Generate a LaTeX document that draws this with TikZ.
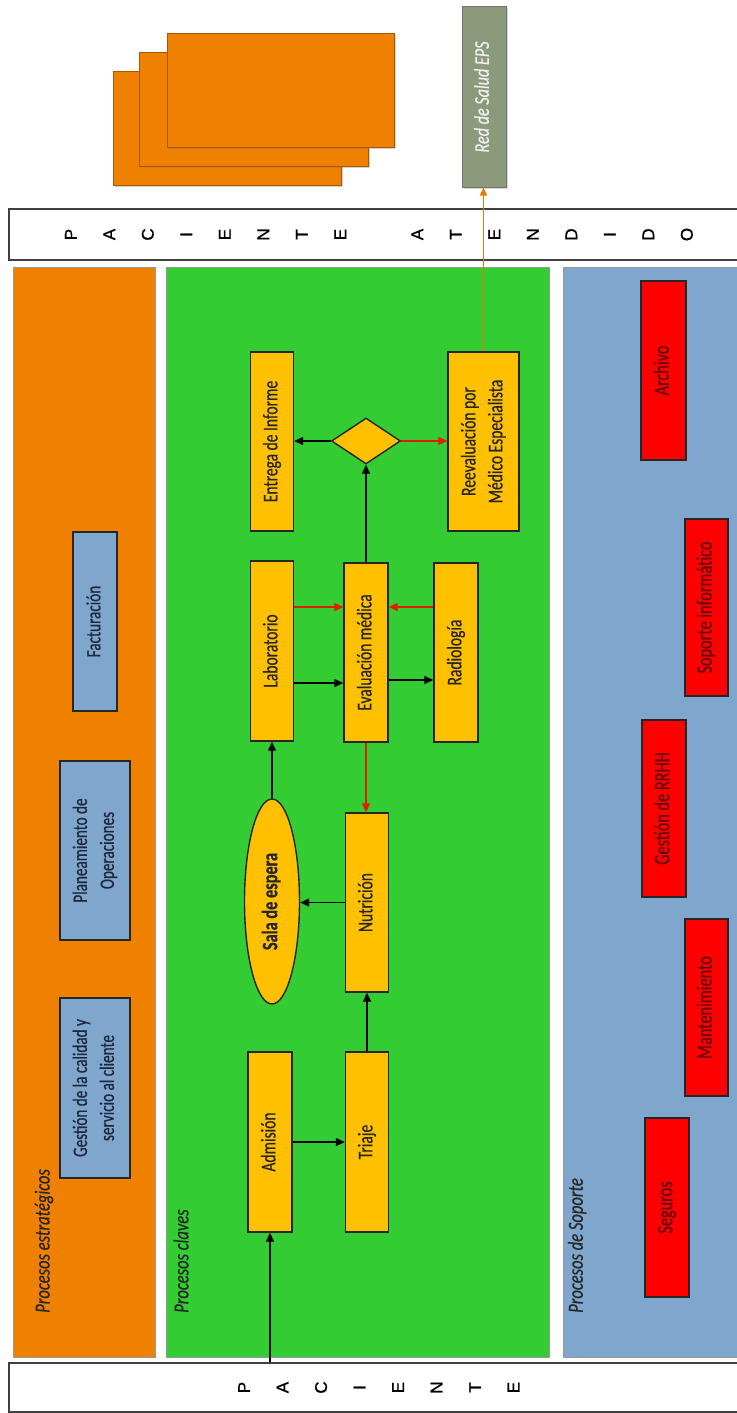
\documentclass[tikz,border=0pt]{standalone}
\usepackage{fontspec}
\setmainfont{Carlito}
\newfontfamily\boxfont[FakeStretch=0.74,FakeBold=0.6]{Carlito}
\newfontfamily\titlefont[FakeStretch=0.77,FakeBold=0.5]{Carlito}
\newfontfamily\letterfont[FakeBold=0.8]{Liberation Sans}
\usetikzlibrary{arrows.meta,shapes.geometric,shadows}

\definecolor{stratfill}{RGB}{240,128,0}
\definecolor{keyfill}{RGB}{51,204,51}
\definecolor{supfill}{RGB}{127,166,204}
\definecolor{stepfill}{RGB}{255,192,0}
\definecolor{suppbox}{RGB}{255,0,0}
\definecolor{suptext}{RGB}{100,0,0}
\definecolor{strattext}{RGB}{30,40,60}
\definecolor{epsfill}{RGB}{140,154,124}
\definecolor{redflow}{RGB}{225,30,0}
\definecolor{stackedge}{RGB}{170,85,0}
\definecolor{exitline}{RGB}{235,120,0}

% vertical (bottom-to-top) label, possibly on several lines
\newcommand{\vlabel}[1]{\rotatebox{90}{\begin{tabular}{@{}c@{}}#1\end{tabular}}}

\tikzset{
  column/.style={draw=black!40, line width=0.8pt},
  ybox/.style={rectangle, fill=stepfill, draw=black!85, line width=1.4pt,
    inner sep=0pt, text=black!85, font=\boxfont\fontsize{21}{27}\selectfont},
  sbox/.style={rectangle, fill=supfill, draw=black!85, line width=1.4pt,
    inner sep=0pt, text=strattext, font=\boxfont\fontsize{20.5}{27}\selectfont},
  rbox/.style={rectangle, fill=suppbox, draw=black!85, line width=1.4pt,
    inner sep=0pt, text=suptext, font=\boxfont\fontsize{22}{26}\selectfont},
  lane/.style={rectangle, fill=white, draw=black!75, line width=1.6pt,
    inner sep=0pt, font=\letterfont\fontsize{17}{38.5}\selectfont},
  lanetitle/.style={rotate=90, anchor=west, inner sep=0pt, text=black!85,
    font=\titlefont\itshape\fontsize{21.5}{24}\selectfont},
  stack/.style={fill=stratfill, draw=stackedge, line width=0.8pt,
    drop shadow={shadow xshift=2pt, shadow yshift=-2pt, opacity=0.35}},
  flow/.style={draw=black, line width=1.5pt, -{Triangle[length=9pt,width=8pt]}},
  redarrow/.style={draw=redflow, line width=1.2pt, -{Triangle[length=9pt,width=8pt]}},
  exitarrow/.style={draw=exitline, line width=1.4pt, -{Triangle[length=8pt,width=7pt]}},
}

\begin{document}
\begin{tikzpicture}[x=1pt,y=1pt]
\useasboundingbox (0,0) rectangle (736,-1413);
\fill[white] (0,0) rectangle (736,-1413);

% swim lanes
\filldraw[column, fill=stratfill] (13,-267) rectangle (155,-1357);
\filldraw[column, fill=keyfill]   (166,-267) rectangle (549,-1357);
\filldraw[column, fill=supfill]   (563,-267) rectangle (745,-1357);

\node[lanetitle] (tstrat) at (44,-1313) {Procesos estratégicos};
\node[lanetitle] (tkey)   at (181,-1313) {Procesos claves};
\node[lanetitle] (tsup)   at (577,-1313) {Procesos de Soporte};

% patient entry and exit bars
\node[lane, minimum width=736, minimum height=49] (pac) at (377,-1387.5)
  {\rotatebox{90}{\begin{tabular}{@{}c@{}}P\\A\\C\\I\\E\\N\\T\\E\end{tabular}}};
\node[lane, minimum width=736, minimum height=51] (pacat) at (377,-234.5)
  {\rotatebox{90}{\begin{tabular}{@{}c@{}}P\\A\\C\\I\\E\\N\\T\\E\\\mbox{}\\A\\T\\E\\N\\D\\I\\D\\O\end{tabular}}};

% stacked documents and health network
\filldraw[stack] (113,-71) rectangle (341,-185);
\filldraw[stack] (139,-52) rectangle (368,-166);
\filldraw[stack] (167,-33) rectangle (394,-147);

\node[rectangle, fill=epsfill, draw=black!55, line width=1pt, inner sep=0pt,
  minimum width=44, minimum height=180, text=white!88!gray,
  font=\titlefont\itshape\fontsize{21}{24}\selectfont,
  drop shadow={shadow xshift=1.5pt, shadow yshift=-1.5pt, opacity=0.3}]
  (eps) at (484,-97) {\vlabel{Red de Salud EPS}};

% strategic processes
\node[sbox, minimum width=44, minimum height=179] (fact) at (95,-621.5) {\vlabel{Facturación}};
\node[sbox, minimum width=70, minimum height=179] (plan) at (95,-850.5) {\vlabel{Planeamiento de\\Operaciones}};
\node[sbox, minimum width=70, minimum height=180] (gest) at (95,-1088) {\vlabel{Gestión de la calidad y\\servicio al cliente}};

% key processes
\node[ybox, minimum width=44, minimum height=180] (adm)  at (270,-1142) {\vlabel{Admisión}};
\node[ybox, minimum width=43, minimum height=180] (tri)  at (367,-1142) {\vlabel{Triaje}};
\node[ybox, minimum width=43, minimum height=179] (nut)  at (367,-902.5) {\vlabel{Nutrición}};
\node[ellipse, fill=stepfill, draw=black!85, line width=1.4pt, inner sep=0pt,
  minimum width=55, minimum height=205, text=black!85,
  font=\boxfont\bfseries\fontsize{22}{26}\selectfont]
  (sala) at (272,-901.5) {\vlabel{Sala de espera}};
\node[ybox, minimum width=43, minimum height=180] (lab)  at (272,-651) {\vlabel{Laboratorio}};
\node[ybox, minimum width=44, minimum height=179] (eval) at (366,-652.5) {\vlabel{Evaluación médica}};
\node[ybox, minimum width=44, minimum height=179] (rad)  at (456,-652.5) {\vlabel{Radiología}};
\node[ybox, minimum width=43, minimum height=179] (ent)  at (272,-441.5) {\vlabel{Entrega de Informe}};
\node[diamond, fill=stepfill, draw=black!85, line width=1.4pt, inner sep=0pt,
  minimum width=69, minimum height=46] (dec) at (366,-441) {};
\node[ybox, minimum width=71, minimum height=179] (reev) at (483.5,-441.5) {\vlabel{Reevaluación por\\Médico Especialista}};

% support processes
\node[rbox, minimum width=45, minimum height=179] (arch) at (663.5,-370.5) {\vlabel{Archivo}};
\node[rbox, minimum width=43, minimum height=177] (sopi) at (706.5,-607.5) {\vlabel{Soporte informático}};
\node[rbox, minimum width=44, minimum height=177] (rrhh) at (664,-808.5) {\vlabel{Gestión de RRHH}};
\node[rbox, minimum width=43, minimum height=177] (mant) at (706.5,-1007.5) {\vlabel{Mantenimiento}};
\node[rbox, minimum width=44, minimum height=179] (seg)  at (667,-1207.5) {\vlabel{Seguros}};

% patient flow
\draw[flow] (pac.north -| adm.south) -- (adm.south);
\draw[flow] (adm.east) -- (adm.east -| tri.west);
\draw[flow] (tri.north) -- (nut.south);
\draw[flow] (nut.west) -- (nut.west -| sala.east);
\draw[flow] (sala.north) -- (lab.south);
\draw[flow] ([yshift=-32pt]lab.east) -- ([yshift=-32pt]lab.east -| eval.west);
\draw[flow] ([yshift=-27.5pt]eval.east) -- ([yshift=-27.5pt]eval.east -| rad.west);
\draw[redarrow] ([yshift=44pt]lab.east) -- ([yshift=44pt]lab.east -| eval.west);
\draw[redarrow] ([yshift=45.5pt]rad.west) -- ([yshift=45.5pt]rad.west -| eval.east);
\draw[redarrow] (eval.south) -- (eval.south |- nut.north);
\draw[flow] (eval.north) -- (dec.south);
\draw[flow] (dec.west) -- (dec.west -| ent.east);
\draw[redarrow] (dec.east) -- (dec.east -| reev.west);
\draw[exitarrow] (reev.north) -- (reev.north |- eps.south);
\end{tikzpicture}
\end{document}
